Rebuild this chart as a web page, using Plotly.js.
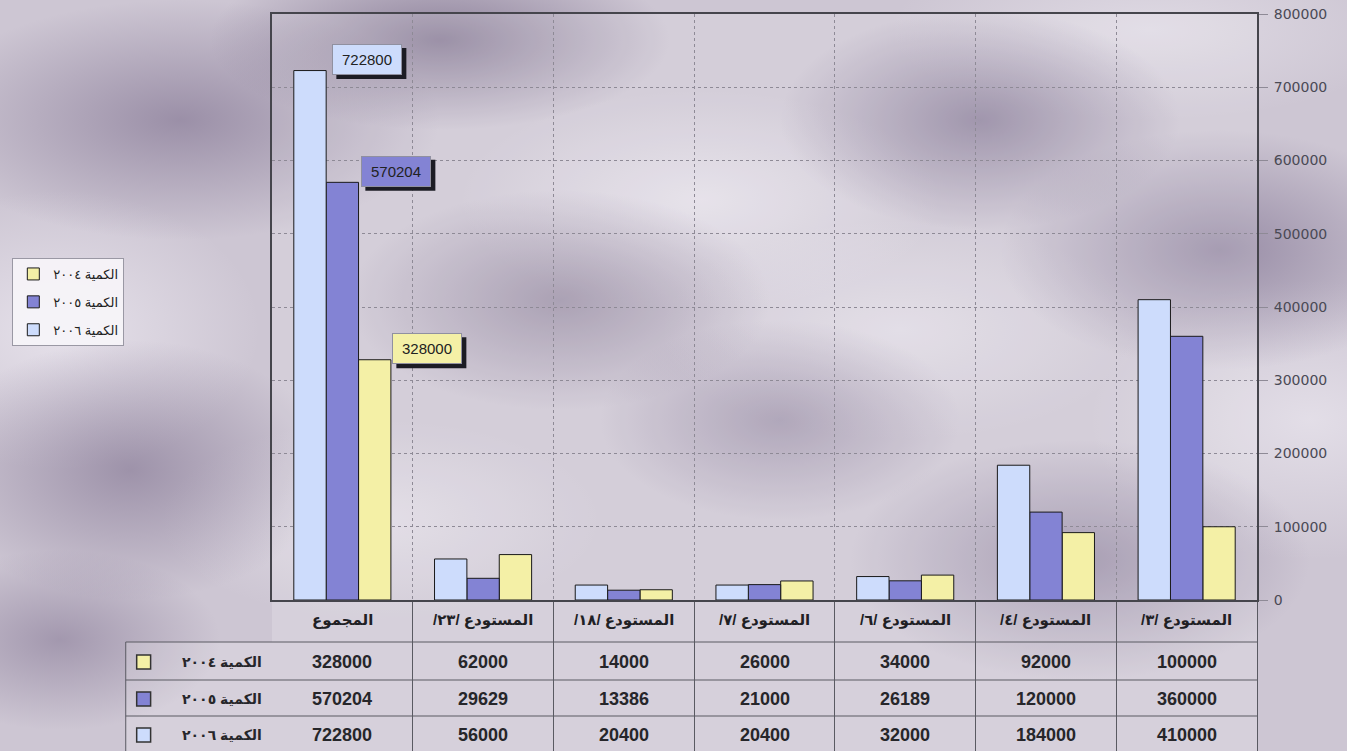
<!DOCTYPE html>
<html>
<head>
<meta charset="utf-8">
<script src="https://cdn.plot.ly/plotly-3.0.1.min.js"></script>
<style>
  html, body { margin: 0; padding: 0; }
  body {
    width: 1347px; height: 751px; overflow: hidden;
    background-color: #cdc6d3;
    background-image:
      radial-gradient(ellipse 230px 90px at 440px 40px, rgba(118,104,134,0.75), rgba(118,104,134,0) 100%),
      radial-gradient(ellipse 260px 120px at 180px 120px, rgba(128,114,144,0.65), rgba(128,114,144,0) 100%),
      radial-gradient(ellipse 200px 110px at 980px 120px, rgba(120,106,138,0.7), rgba(120,106,138,0) 100%),
      radial-gradient(ellipse 220px 120px at 1220px 250px, rgba(124,110,142,0.65), rgba(124,110,142,0) 100%),
      radial-gradient(ellipse 210px 110px at 560px 300px, rgba(126,112,140,0.6), rgba(126,112,140,0) 100%),
      radial-gradient(ellipse 180px 100px at 780px 420px, rgba(130,116,146,0.55), rgba(130,116,146,0) 100%),
      radial-gradient(ellipse 230px 120px at 1080px 560px, rgba(122,108,140,0.6), rgba(122,108,140,0) 100%),
      radial-gradient(ellipse 200px 130px at 130px 470px, rgba(126,112,142,0.6), rgba(126,112,142,0) 100%),
      radial-gradient(ellipse 160px 90px at 60px 640px, rgba(128,114,144,0.55), rgba(128,114,144,0) 100%),
      radial-gradient(ellipse 240px 110px at 700px 200px, rgba(236,232,240,0.7), rgba(236,232,240,0) 100%),
      radial-gradient(ellipse 200px 140px at 60px 330px, rgba(238,234,242,0.75), rgba(238,234,242,0) 100%),
      radial-gradient(ellipse 220px 140px at 1310px 420px, rgba(236,232,240,0.7), rgba(236,232,240,0) 100%),
      radial-gradient(ellipse 240px 110px at 900px 330px, rgba(234,230,238,0.6), rgba(234,230,238,0) 100%),
      radial-gradient(ellipse 220px 100px at 380px 520px, rgba(234,230,238,0.6), rgba(234,230,238,0) 100%),
      radial-gradient(ellipse 260px 90px at 1150px 30px, rgba(234,230,238,0.6), rgba(234,230,238,0) 100%);
  }
  #chart { width: 1347px; height: 751px; }
</style>
</head>
<body>
<div id="chart"></div>
<script>
// Warehouse quantities, listed from the first warehouse (drawn on the right) to the total
const categories = ['المستودع /٣/', 'المستودع /٤/', 'المستودع /٦/', 'المستودع /٧/', 'المستودع /١٨/', 'المستودع /٢٣/', 'المجموع'];
const qty2004 = [100000, 92000, 34000, 26000, 14000, 62000, 328000];
const qty2005 = [360000, 120000, 26189, 21000, 13386, 29629, 570204];
const qty2006 = [410000, 184000, 32000, 20400, 20400, 56000, 722800];
const seriesNames = ['الكمية ٢٠٠٤', 'الكمية ٢٠٠٥', 'الكمية ٢٠٠٦'];
const yTicks = [0, 100000, 200000, 300000, 400000, 500000, 600000, 700000, 800000];

const colors = ['#f4f0a6', '#8383d4', '#cddcfc'];
const seriesValues = [qty2004, qty2005, qty2006];
const RLM = '\u200F';

// frame geometry (pixels) used for the table under the plot
const W = 1347, H = 751;
const M = { l: 267, r: 90, t: 14, b: 151 };
const plotW = W - M.l - M.r, plotH = H - M.t - M.b;
const px = x => (x - M.l) / plotW;
const py = y => (H - M.b - y) / plotH;

const traces = seriesValues.map((vals, i) => ({
  type: 'bar',
  name: seriesNames[i],
  x: categories,
  y: vals,
  legendgroup: 'g' + i,
  marker: { color: colors[i], line: { color: '#1a1a1a', width: 1 } },
  hoverinfo: 'x+y+name'
}));

const annotations = [];
const shapes = [];
const fontFam = 'Liberation Sans, Arial, DejaVu Sans, sans-serif';

// value callouts on the total group, each with a dark drop shadow
const totalIdx = categories.length - 1;
const callShift = [50, 19, -10];
const boxW = 70, boxH = 31, lift = 11;
seriesValues.forEach((vals, i) => {
  const v = vals[totalIdx];
  shapes.push({
    type: 'rect', layer: 'above',
    xref: 'x', xsizemode: 'pixel', xanchor: totalIdx,
    x0: callShift[i] + 4, x1: callShift[i] + 4 + boxW,
    yref: 'y', ysizemode: 'pixel', yanchor: v,
    y0: lift - boxH / 2 - 4, y1: lift + boxH / 2 - 4,
    fillcolor: '#1c1c24', line: { width: 0 }
  });
  annotations.push({
    x: categories[totalIdx], y: v, xref: 'x', yref: 'y',
    text: String(v), showarrow: false,
    xanchor: 'left', yanchor: 'middle', xshift: callShift[i], yshift: lift,
    width: boxW - 4, height: boxH - 4, borderpad: 1,
    bgcolor: colors[i], bordercolor: '#9090a0', borderwidth: 1,
    font: { family: fontFam, size: 15, color: '#222' }
  });
});

// table: header row with category names and three value rows
const rowCenters = [620, 662, 699, 735];
const rowLines = [642, 680, 716];
shapes.push({ type: 'rect', xref: 'paper', yref: 'paper', x0: px(M.l), x1: px(W - M.r), y0: py(H), y1: py(600),
  fillcolor: 'rgba(255,255,255,0.18)', line: { width: 0 }, layer: 'below' });
shapes.push({ type: 'rect', xref: 'paper', yref: 'paper', x0: px(120), x1: px(M.l), y0: py(H), y1: py(642),
  fillcolor: 'rgba(255,255,255,0.18)', line: { width: 0 }, layer: 'below' });
rowLines.forEach(y => shapes.push({ type: 'line', xref: 'paper', yref: 'paper',
  x0: px(120), x1: px(W - M.r), y0: py(y), y1: py(y), line: { color: '#5a5a62', width: 1 } }));
shapes.push({ type: 'line', xref: 'paper', yref: 'paper', x0: px(120), x1: px(120), y0: py(642), y1: py(H),
  line: { color: '#5a5a62', width: 1 } });

categories.forEach((c, j) => {
  annotations.push({ x: c, xref: 'x', y: py(rowCenters[0]), yref: 'paper', showarrow: false,
    xanchor: 'center', yanchor: 'middle',
    text: '<b>' + RLM + c + RLM + '</b>', font: { family: fontFam, size: 15, color: '#202024' } });
  seriesValues.forEach((vals, i) => {
    annotations.push({ x: c, xref: 'x', y: py(rowCenters[i + 1]), yref: 'paper', showarrow: false,
      xanchor: 'center', yanchor: 'middle',
      text: '<b>' + vals[j] + '</b>', font: { family: fontFam, size: 18, color: '#26262a' } });
  });
});

seriesNames.forEach((n, i) => {
  const yc = rowCenters[i + 1];
  annotations.push({ x: px(259), xref: 'paper', y: py(yc), yref: 'paper', xanchor: 'right', yanchor: 'middle',
    showarrow: false, text: '<b>' + n + '</b>', font: { family: fontFam, size: 14, color: '#26262a' } });
  shapes.push({ type: 'rect', xref: 'paper', yref: 'paper', x0: px(131), x1: px(145), y0: py(yc + 7), y1: py(yc - 7),
    fillcolor: colors[i], line: { color: '#333', width: 1.5 } });
});

const layout = {
  width: W, height: H,
  margin: M,
  paper_bgcolor: 'rgba(0,0,0,0)',
  plot_bgcolor: 'rgba(255,255,255,0.14)',
  barmode: 'group', bargap: 0.31, bargroupgap: 0,
  showlegend: true,
  legend: {
    x: px(6), y: py(258), xanchor: 'left', yanchor: 'top',
    bgcolor: 'rgba(246,244,249,0.93)', bordercolor: '#9a98a4', borderwidth: 1,
    traceorder: 'grouped', tracegroupgap: 8, itemwidth: 30,
    font: { family: fontFam, size: 13, color: '#222' }
  },
  xaxis: {
    type: 'category', range: [categories.length - 0.5, -0.5],
    showticklabels: false, tickson: 'boundaries',
    ticks: 'outside', ticklen: M.b, tickcolor: '#5a5a62', tickwidth: 1,
    showgrid: true, gridcolor: '#8e8a96', griddash: 'dot', gridwidth: 1,
    showline: true, mirror: true, linecolor: '#45454c', linewidth: 2,
    zeroline: false, fixedrange: true
  },
  yaxis: {
    side: 'right', range: [0, 800000], tickvals: yTicks, tickformat: 'd',
    ticks: 'outside', ticklen: 9, tickcolor: '#8e8a96', ticklabelstandoff: 3,
    showgrid: true, gridcolor: '#8e8a96', griddash: 'dot', gridwidth: 1,
    showline: true, mirror: true, linecolor: '#45454c', linewidth: 2,
    zeroline: false, fixedrange: true,
    tickfont: { family: 'DejaVu Sans, Verdana, sans-serif', size: 14, color: '#4a4a55' }
  },
  annotations: annotations,
  shapes: shapes
};

Plotly.newPlot('chart', traces, layout, { displayModeBar: false, staticPlot: true });
</script>
</body>
</html>
